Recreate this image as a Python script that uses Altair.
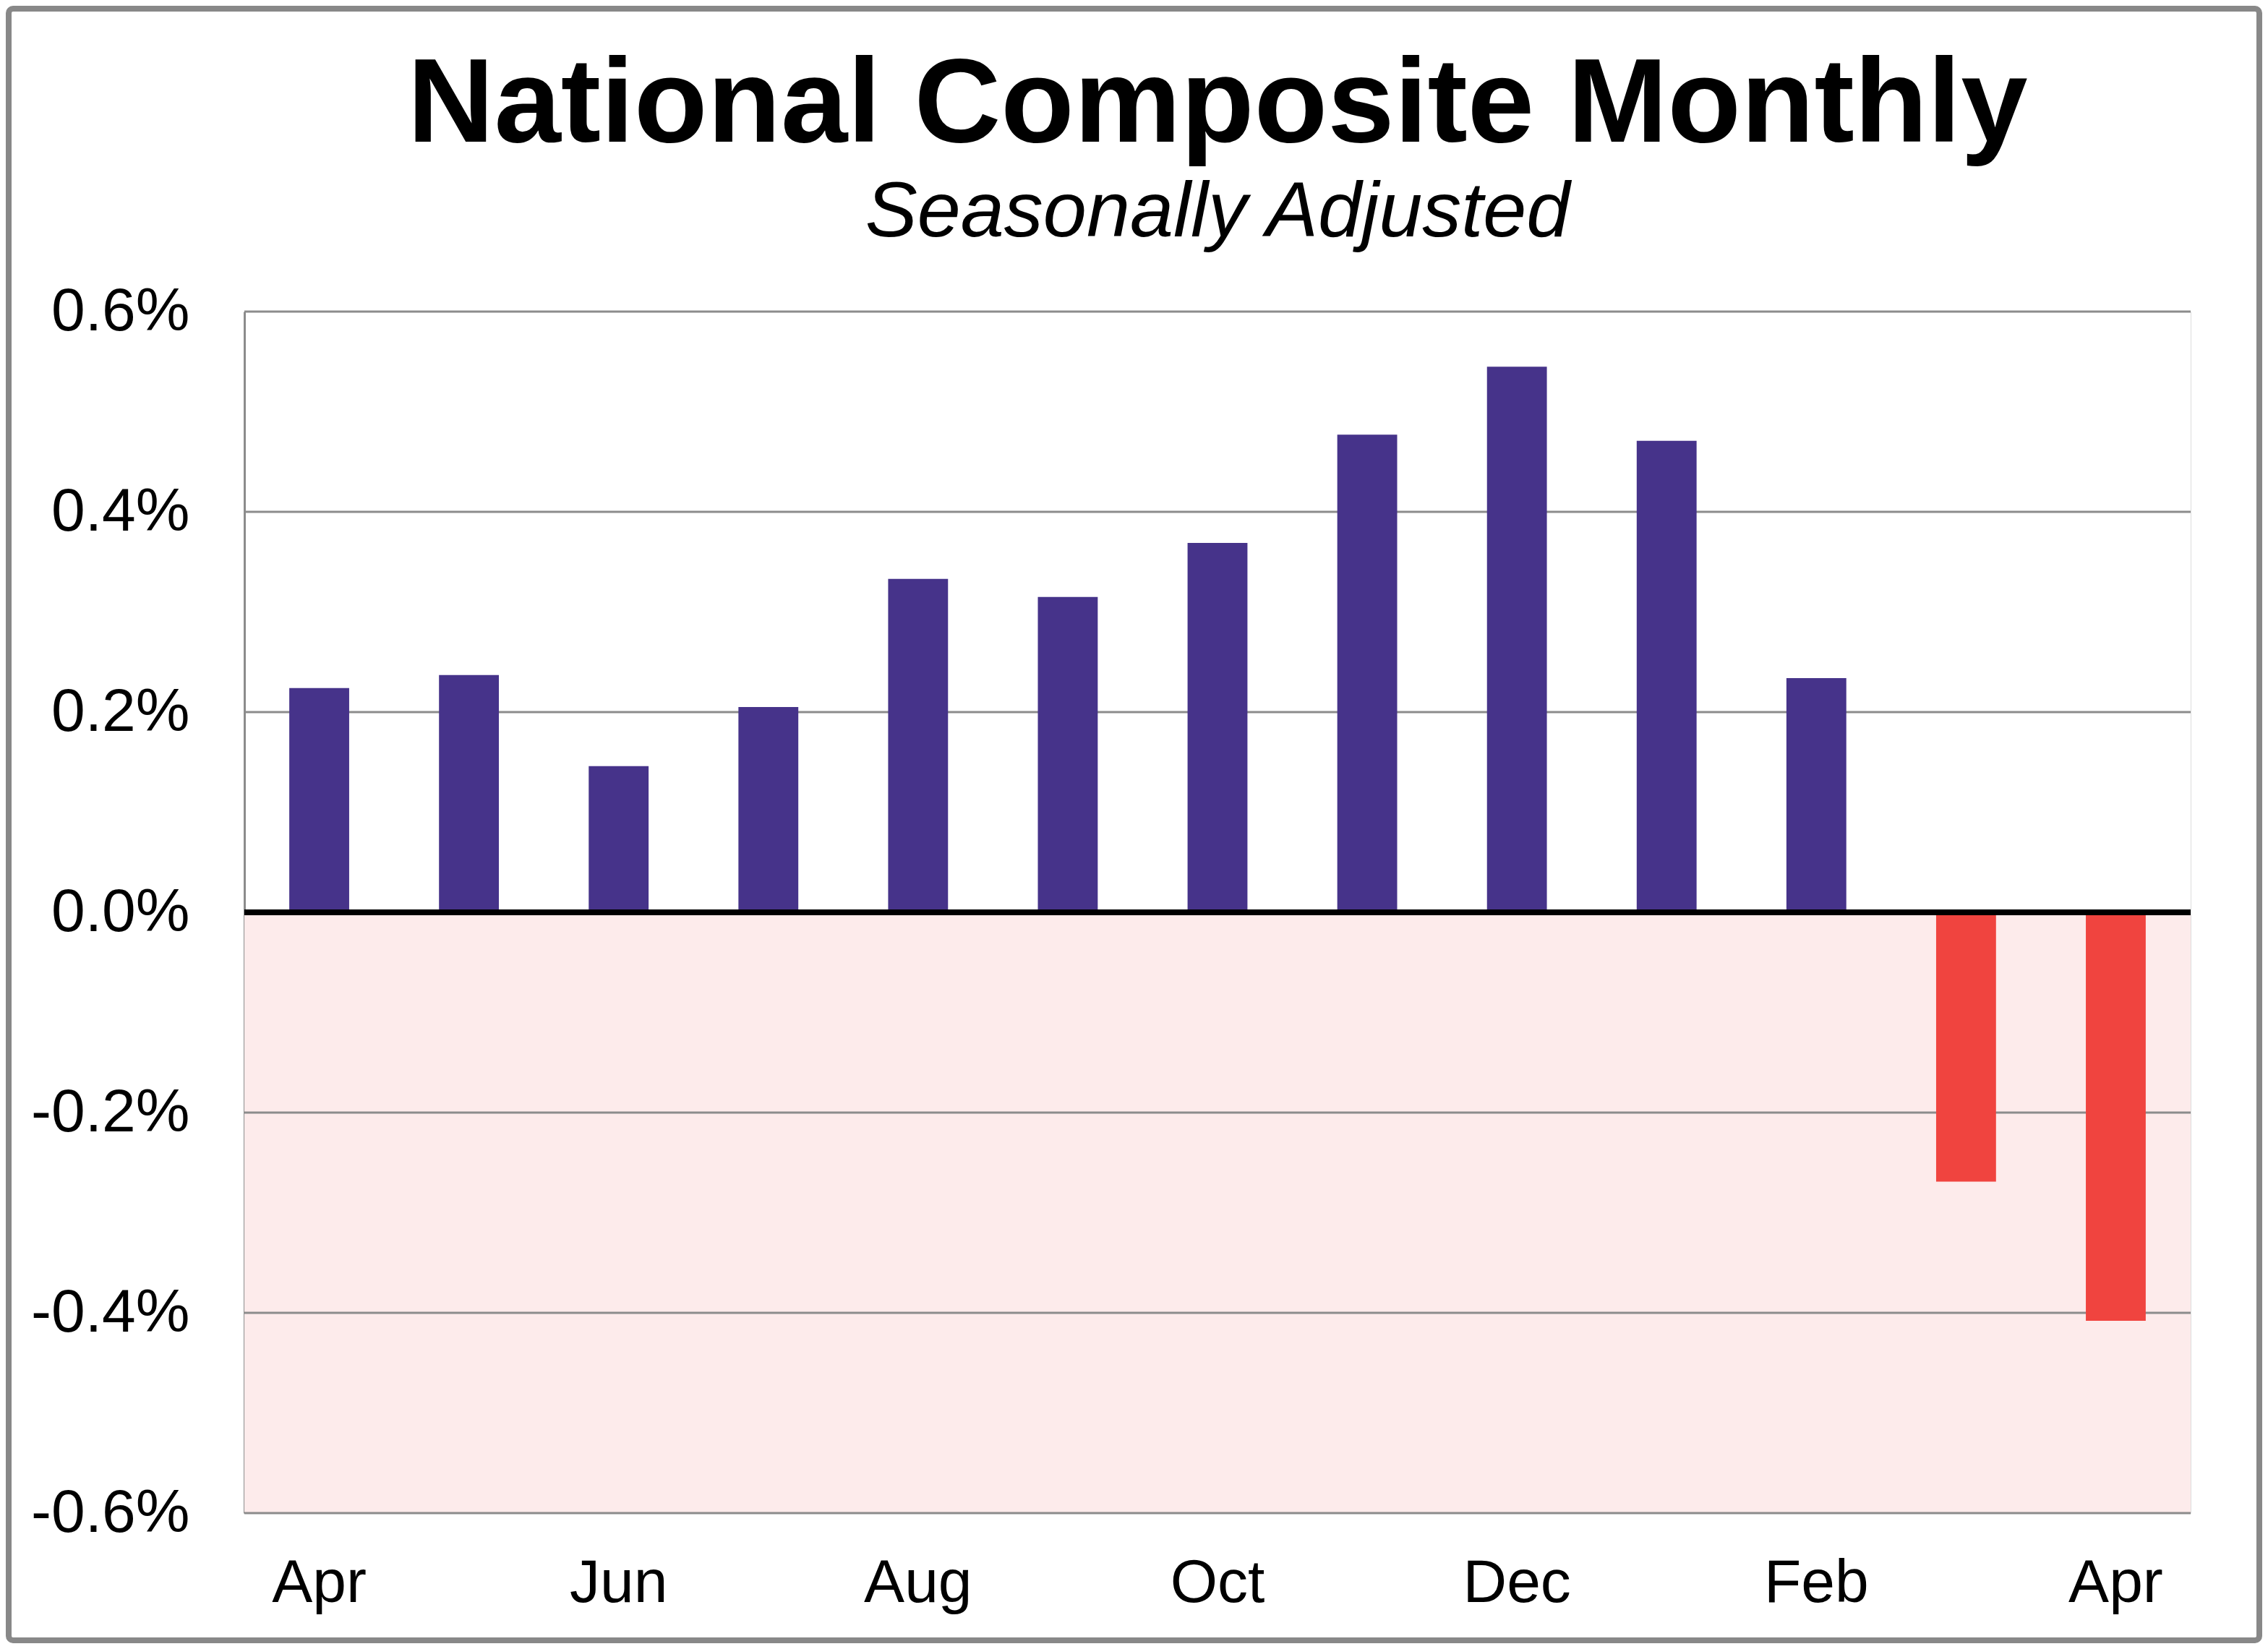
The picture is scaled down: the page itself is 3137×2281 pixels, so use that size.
import altair as alt
import pandas as pd

months = ["Apr", "May", "Jun", "Jul", "Aug", "Sep", "Oct", "Nov", "Dec", "Jan", "Feb", "Mar", "Apr"]
values = [0.224, 0.237, 0.146, 0.205, 0.333, 0.315, 0.369, 0.477, 0.545, 0.471, 0.234, -0.269, -0.408]
grid_values = [0.6, 0.4, 0.2, -0.2, -0.4, -0.6]
y_ticks = [0.6, 0.4, 0.2, 0.0, -0.2, -0.4, -0.6]
title_text = "National Composite Monthly"
subtitle_text = "Seasonally Adjusted"

df = pd.DataFrame({
    "idx": list(range(len(months))),
    "month": months,
    "value": [v / 100 for v in values],
})
grid_df = pd.DataFrame({"g": [g / 100 for g in grid_values]})
one = pd.DataFrame({"a": [0]})

W, H = 2692, 1662
PL, PT, PR, PB = 330, 423, 99, 180
FONT = "Liberation Sans"

label_array = "[" + ",".join("'%s'" % m for m in months) + "]"

yscale = alt.Scale(domain=[-0.006, 0.006], nice=False, zero=False)

pink = alt.Chart(one).mark_rect(color="#FDEBEB").encode(
    x=alt.value(0), x2=alt.value(W),
    y=alt.datum(0, scale=yscale), y2=alt.datum(-0.006),
)

grid = alt.Chart(grid_df).mark_rule(color="#8C8C8C", strokeWidth=3).encode(
    y=alt.Y("g:Q", scale=yscale),
    x=alt.value(0), x2=alt.value(W),
)

bars = alt.Chart(df).mark_bar().encode(
    x=alt.X("idx:O",
            scale=alt.Scale(paddingInner=0.6, paddingOuter=0.3),
            axis=alt.Axis(title=None, values=[0, 2, 4, 6, 8, 10, 12],
                          labelExpr=label_array + "[datum.value]",
                          labelAngle=0, labelFont=FONT, labelFontSize=84,
                          labelColor="black", labelPadding=56,
                          ticks=False, domain=False)),
    y=alt.Y("value:Q", scale=yscale,
            axis=alt.Axis(title=None, values=[t / 100 for t in y_ticks],
                          labelExpr="replace(format(datum.value, '.1%'), '\u2212', '-')",
                          labelFont=FONT, labelFontSize=84, labelColor="black",
                          labelLimit=1000, labelPadding=76, ticks=False, grid=False,
                          domain=True, domainColor="#8C8C8C", domainWidth=3)),
    color=alt.condition(alt.datum.value < 0, alt.value("#F0443F"), alt.value("#46338A")),
)

zero = alt.Chart(one).mark_rule(color="black", strokeWidth=8).encode(
    y=alt.datum(0), x=alt.value(0), x2=alt.value(W),
)

title = alt.Chart(one).mark_text(
    text=title_text, font=FONT, fontSize=166, fontWeight="bold", color="black",
    align="center", baseline="alphabetic",
).encode(x=alt.value(W / 2), y=alt.value(-235))

subtitle = alt.Chart(one).mark_text(
    text=subtitle_text, font=FONT, fontSize=108, fontStyle="italic", color="black",
    align="center", baseline="alphabetic",
).encode(x=alt.value(W / 2), y=alt.value(-104))

frame = alt.Chart(one).mark_rect(fill=None, stroke="#888888", strokeWidth=8, cornerRadius=6).encode(
    x=alt.value(-PL + 4), x2=alt.value(W + PR - 4),
    y=alt.value(-PT + 4), y2=alt.value(H + PB - 4),
)

chart = alt.layer(pink, grid, bars, zero, title, subtitle, frame).properties(
    width=W, height=H,
    autosize=alt.AutoSizeParams(type="none"),
    padding={"left": PL, "top": PT, "right": PR, "bottom": PB},
).configure_view(stroke=None).configure(background="white")

chart.save("out.html", embed_options={"renderer": "svg", "actions": False})
